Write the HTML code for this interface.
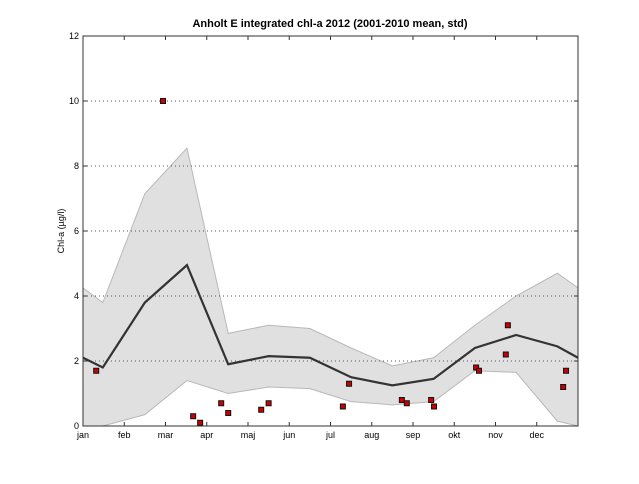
<!DOCTYPE html>
<html><head><meta charset="utf-8"><style>
body{margin:0;background:#fff;width:639px;height:479px;overflow:hidden}
text{font-family:"Liberation Sans",sans-serif;}
</style></head><body>
<svg id="chart" width="639" height="479" xmlns="http://www.w3.org/2000/svg">
<text x="330" y="27" text-anchor="middle" font-size="11" font-weight="bold">Anholt E integrated chl-a 2012 (2001-2010 mean, std)</text>
<text transform="translate(64,231) rotate(-90)" text-anchor="middle" font-size="9">Chl-a (µg/l)</text>
<g id="plot"></g>
</svg>
<script>
const monthLabels=["jan","feb","mar","apr","maj","jun","jul","aug","sep","okt","nov","dec"];
const yTicks=[0,2,4,6,8,10,12];
const meanX=[0,0.48,1.5,2.52,3.52,4.5,5.5,6.5,7.5,8.5,9.5,10.5,11.5,12];
const meanY=[2.1,1.8,3.8,4.95,1.9,2.15,2.1,1.5,1.25,1.45,2.4,2.8,2.45,2.1];
const upperY=[4.25,3.8,7.15,8.55,2.85,3.1,3.0,2.4,1.85,2.1,3.1,4.0,4.7,4.25];
const lowerY=[-0.05,-0.6,0.35,1.4,1.0,1.2,1.15,0.75,0.65,0.75,1.7,1.65,0.15,-0.1];
const obsX=[0.32,1.94,2.67,2.84,3.35,3.52,4.32,4.5,6.3,6.45,7.73,7.85,8.44,8.51,9.53,9.6,10.25,10.3,11.64,11.71];
const obsY=[1.7,10.0,0.3,0.1,0.7,0.4,0.5,0.7,0.6,1.3,0.8,0.7,0.8,0.6,1.8,1.7,2.2,3.1,1.2,1.7];

const L=83,R=578,T=36,B=426;
const sx=m=>L+m*(R-L)/12;
const sy=v=>B-Math.max(0,v)*(B-T)/12;
const NS="http://www.w3.org/2000/svg";
const g=document.getElementById('plot');
function mk(tag,attrs){const e=document.createElementNS(NS,tag);for(const k in attrs)e.setAttribute(k,attrs[k]);g.appendChild(e);return e;}

// band
let pts=meanX.map((m,i)=>sx(m)+','+sy(upperY[i]));
for(let i=meanX.length-1;i>=0;i--)pts.push(sx(meanX[i])+','+sy(lowerY[i]));
const band=mk('polygon',{points:pts.join(' '),fill:'#e0e0e0',stroke:'#b8b8b8','stroke-width':1});



// grid
yTicks.forEach(v=>{
  if(v>0&&v<12){const l=mk('line',{x1:L,x2:R,y1:sy(v),y2:sy(v),stroke:'#555','stroke-dasharray':'1,3','stroke-width':1});
  
  }
  const t=mk('line',{x1:L,x2:L+4,y1:sy(v),y2:sy(v),stroke:'#333'});
  
  
  const t2=mk('line',{x1:R,x2:R-4,y1:sy(v),y2:sy(v),stroke:'#333'});
  
  
  const tx=mk('text',{x:L-4,y:sy(v)+3,'text-anchor':'end','font-size':9});
  tx.textContent=v;
  
  
});
monthLabels.forEach((lab,i)=>{
  const t=mk('line',{x1:sx(i),x2:sx(i),y1:B,y2:B-4,stroke:'#333'});
  
  
  const t2=mk('line',{x1:sx(i),x2:sx(i),y1:T,y2:T+4,stroke:'#333'});
  
  
  const tx=mk('text',{x:sx(i),y:B+12,'text-anchor':'middle','font-size':9});
  tx.textContent=lab;
  
  
});
// mean line
const ml=mk('polyline',{points:meanX.map((m,i)=>sx(m)+','+sy(meanY[i])).join(' '),fill:'none',stroke:'#333','stroke-width':2.2});


// obs
obsX.forEach((m,i)=>{
  const r=mk('rect',{x:sx(m)-2.5,y:sy(obsY[i])-2.5,width:5,height:5,fill:'#cc0000',stroke:'#111','stroke-width':1});
  
  
});
// frame
const fr=mk('rect',{x:L,y:T,width:R-L,height:B-T,fill:'none',stroke:'#333','stroke-width':1});


</script>
</body></html>
